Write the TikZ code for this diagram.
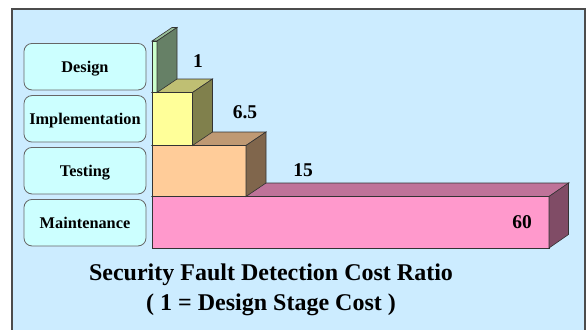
\documentclass[tikz,border=0pt]{standalone}
\usepackage{fontspec}
\setmainfont{Liberation Serif}
\usepackage{tikz}
\usetikzlibrary{calc}
\definecolor{panelblue}{RGB}{204,236,255}
\definecolor{boxcyan}{RGB}{204,255,255}
\definecolor{dsgn}{RGB}{204,255,204}
\definecolor{impl}{RGB}{255,255,153}
\definecolor{tst}{RGB}{255,204,153}
\definecolor{mnt}{RGB}{255,153,204}

\begin{document}
\begin{tikzpicture}[x=1pt, y=-1pt, stage/.style={draw=black!60, line width=0.8pt, fill=boxcyan, rounded corners=8pt, minimum width=122pt, minimum height=46.5pt, text height=11pt, text depth=0pt, font=\fontsize{16.3}{18}\selectfont\bfseries}, face/.style={draw=black!80, line width=0.6pt}, val/.style={font=\fontsize{19.5}{22}\selectfont\bfseries}, ttl/.style={anchor=base, font=\fontsize{24}{30}\selectfont\bfseries}]
				\useasboundingbox (0,0) rectangle (588,329);
				\clip (0,0) rectangle (588,329);
				\filldraw[fill=panelblue, draw=black!70, line width=1.2pt] (12,9) rectangle (585,345);

				% Stage boxes

				\node [stage] (design) at (85,66.7) {Design};
				\node [stage] (implementation) at (85,118.8) {Implementation};
				\node [stage] (testing) at (85,170.7) {Testing};
				\node [stage] (maintenance) at (85,222.7) {Maintenance};

				% Bars, bottom one first (front, top, side)

				\filldraw[face, fill=mnt] (152,196.5) rectangle (549,248);
				\filldraw[face, fill=mnt!75!black] (152,196.5) -- ++(20,-13.5) -- ++(397,0) -- (549,196.5) -- cycle;
				\filldraw[face, fill=mnt!50!black] (549,196.5) -- ++(19.5,-13.5) -- ++(0,51.5) -- (549,248) -- cycle;

				\filldraw[face, fill=tst] (152,145.5) rectangle (246,196.5);
				\filldraw[face, fill=tst!75!black] (152,145.5) -- ++(20,-13.5) -- ++(94,0) -- (246,145.5) -- cycle;
				\filldraw[face, fill=tst!50!black] (246,145.5) -- ++(20,-13.5) -- ++(0,51) -- (246,196.5) -- cycle;

				\filldraw[face, fill=impl] (152,92.5) rectangle (192.5,145.5);
				\filldraw[face, fill=impl!75!black] (152,92.5) -- ++(20,-13.5) -- ++(40.5,0) -- (192.5,92.5) -- cycle;
				\filldraw[face, fill=impl!50!black] (192.5,92.5) -- ++(20,-13.5) -- ++(0,53) -- (192.5,145.5) -- cycle;

				\filldraw[face, fill=dsgn] (152,41) rectangle (157,92.5);
				\filldraw[face, fill=dsgn!75!black] (152,41) -- ++(20,-13.5) -- ++(5,0) -- (157,41) -- cycle;
				\filldraw[face, fill=dsgn!50!black] (157,41) -- ++(20,-13.5) -- ++(0,51.5) -- (157,92.5) -- cycle;

				% Values

				\node [val] (v1) at (198,61) {1};
				\node [val] (v2) at (245,112) {6.5};
				\node [val] (v3) at (303,170) {15};
				\node [val] (v4) at (522,222) {60};

				% Caption

				\node [ttl] (title) at (271,280) {Security Fault Detection Cost Ratio};
				\node [ttl] (subtitle) at (271,310) {( 1 = Design Stage Cost )};
			\end{tikzpicture}
\end{document}
